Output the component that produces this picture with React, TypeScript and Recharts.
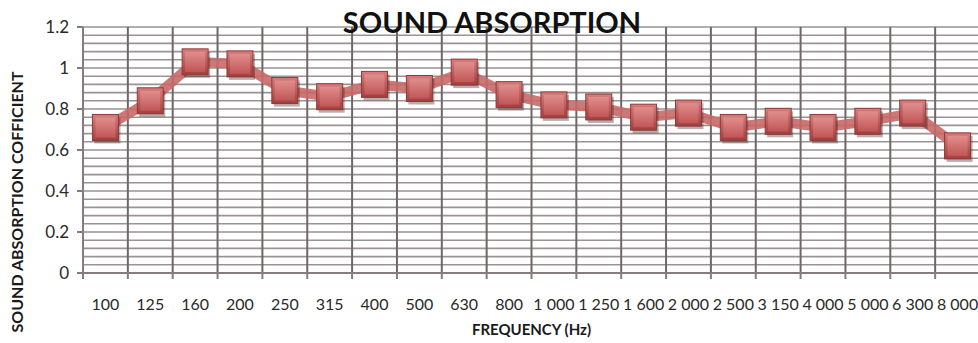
import { CartesianGrid, Label, Line, LineChart, XAxis, YAxis } from 'recharts'

const frequencies = [
  '100', '125', '160', '200', '250', '315', '400', '500', '630', '800',
  '1 000', '1 250', '1 600', '2 000', '2 500', '3 150', '4 000', '5 000', '6 300', '8 000',
]

const absorption = [
  0.71, 0.84, 1.03, 1.02, 0.89, 0.86, 0.92, 0.9, 0.98, 0.87,
  0.82, 0.81, 0.76, 0.78, 0.71, 0.74, 0.71, 0.74, 0.78, 0.62,
]

const majorTicks = [0, 0.2, 0.4, 0.6, 0.8, 1, 1.2]
const minorTicks = Array.from({ length: 31 }, (_, i) => Number((i * 0.04).toFixed(2)))

const chartData = frequencies.map((freq, i) => ({ freq, alpha: absorption[i] }))

const font = 'Lato, "Open Sans", sans-serif'

function SquareMarker(props: any) {
  const { cx, cy, index } = props
  if (cx == null || cy == null) return null
  const s = 26
  return (
    <g key={`sq-${index}`}>
      <rect x={cx - s / 2 + 2} y={cy - s / 2 + 3} width={s} height={s} fill="rgba(60,20,20,0.35)" />
      <rect x={cx - s / 2} y={cy - s / 2} width={s} height={s} fill="url(#sqFill)" stroke="#8c3a3a" strokeWidth={1} />
      <rect x={cx - s / 2 + 3} y={cy - s / 2 + 3} width={s - 6} height={s - 6} fill="url(#sqInner)" />
    </g>
  )
}

// category label plus a tick mark on the left band edge
function FreqTick(props: any) {
  const { x, y, payload, index } = props
  const half = payload?.offset ?? 0
  return (
    <g>
      <line x1={x - half} x2={x - half} y1={y - 1} y2={y + 6} stroke="#857d7d" strokeWidth={2} />
      {index === frequencies.length - 1 && (
        <line x1={x + half} x2={x + half} y1={y - 1} y2={y + 6} stroke="#857d7d" strokeWidth={2} />
      )}
      <text x={x} y={y + 37} textAnchor="middle" fill="#2a2a2a" fontSize={16} fontFamily={font}>
        {payload.value}
      </text>
    </g>
  )
}

// vertical lines at band edges
const bandEdges = ({ xAxis, offset }: any) => {
  const scale = xAxis?.scale
  if (typeof scale === 'function' && typeof scale.bandwidth === 'function') {
    const edges = frequencies.map((f) => scale(f))
    edges.push(scale(frequencies[frequencies.length - 1]) + scale.bandwidth())
    return edges
  }
  const step = offset.width / frequencies.length
  return [...frequencies.map((_, i) => offset.left + i * step), offset.left + offset.width]
}

const minorLines = ({ yAxis, offset }: any) => {
  const scale = yAxis?.scale
  if (typeof scale === 'function') return minorTicks.map((v) => scale(v))
  return minorTicks.map((v) => offset.top + offset.height * (1 - v / 1.2))
}

function SoundAbsorptionChart() {
  return (
    <div style={{ position: 'absolute', left: 0, top: 0, width: 978, height: 343, overflow: 'hidden', background: '#fff' }}>
      <LineChart width={990} height={343} data={chartData} margin={{ top: 27, right: 10, bottom: 0, left: 0 }}>
        <defs>
          <linearGradient id="sqFill" x1="0" y1="0" x2="0" y2="1">
            <stop offset="0%" stopColor="#d87c7c" />
            <stop offset="100%" stopColor="#a23e3e" />
          </linearGradient>
          <linearGradient id="sqInner" x1="0" y1="0" x2="0" y2="1">
            <stop offset="0%" stopColor="#e08e8e" />
            <stop offset="100%" stopColor="#c25656" />
          </linearGradient>
        </defs>

        <CartesianGrid vertical={false} horizontalCoordinatesGenerator={minorLines} stroke="#9a9393" strokeWidth={1.6} />
        <CartesianGrid horizontal={false} verticalCoordinatesGenerator={bandEdges} stroke="#6f6767" strokeWidth={2} />

        <XAxis
          dataKey="freq"
          scale="band"
          interval={0}
          axisLine={{ stroke: '#857d7d', strokeWidth: 2 }}
          tickLine={false}
          tickSize={0}
          tickMargin={0}
          height={70}
          tick={<FreqTick />}
        >
          <Label
            value="FREQUENCY (Hz)"
            position="insideBottom"
            offset={8}
            style={{ fill: '#1a1a1a', fontSize: 15, fontWeight: 700, fontFamily: font }}
          />
        </XAxis>

        <YAxis
          domain={[0, 1.2]}
          ticks={majorTicks}
          width={83}
          axisLine={{ stroke: '#857d7d', strokeWidth: 2 }}
          tickLine={{ stroke: '#857d7d', strokeWidth: 2 }}
          tickSize={6}
          tickMargin={8}
          tick={{ fill: '#2a2a2a', fontSize: 17, fontFamily: font }}
        />

        <Line
          dataKey="alpha"
          stroke="#c96868"
          strokeOpacity={0.9}
          strokeWidth={10}
          dot={SquareMarker}
          activeDot={false}
          isAnimationActive={false}
        />

        <text
          x={492}
          y={33}
          textAnchor="middle"
          style={{ fill: '#111', fontSize: 29, fontWeight: 700, fontFamily: font }}
        >
          SOUND ABSORPTION
        </text>
        <text
          x={23}
          y={202}
          textAnchor="middle"
          transform="rotate(-90 23 202)"
          style={{ fill: '#1a1a1a', fontSize: 16, fontWeight: 700, fontFamily: font }}
        >
          SOUND  ABSORPTION COFFICIENT
        </text>
      </LineChart>
    </div>
  )
}

export default function App() {
  return <SoundAbsorptionChart />
}
